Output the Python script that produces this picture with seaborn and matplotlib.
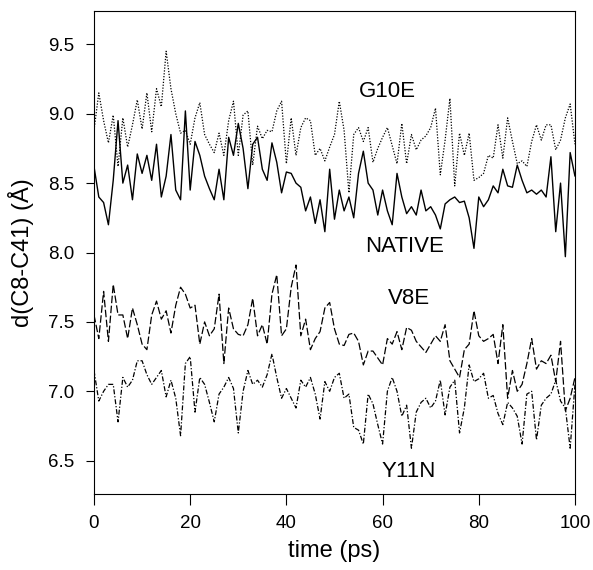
import numpy as np
import pandas as pd
import seaborn as sns
import matplotlib
matplotlib.use('Agg')
import matplotlib.pyplot as plt

# time axis (ps), one point per ps
time_ps = list(range(0, 101))

# d(C8-C41) in Angstrom
native = [8.62, 8.40, 8.36, 8.20, 8.52, 8.95, 8.50, 8.63, 8.38, 8.71,
          8.57, 8.70, 8.52, 8.78, 8.40, 8.55, 8.85, 8.45, 8.38, 9.02,
          8.45, 8.80, 8.70, 8.55, 8.46, 8.38, 8.60, 8.38, 8.83, 8.70,
          8.93, 8.75, 8.46, 8.78, 8.83, 8.60, 8.52, 8.79, 8.65, 8.43,
          8.58, 8.57, 8.50, 8.47, 8.30, 8.40, 8.21, 8.38, 8.15, 8.60,
          8.24, 8.45, 8.30, 8.40, 8.25, 8.57, 8.73, 8.50, 8.45, 8.27,
          8.45, 8.30, 8.20, 8.57, 8.40, 8.28, 8.33, 8.27, 8.45, 8.30,
          8.33, 8.27, 8.17, 8.35, 8.38, 8.40, 8.36, 8.37, 8.25, 8.03,
          8.40, 8.33, 8.38, 8.48, 8.43, 8.60, 8.48, 8.47, 8.63, 8.52,
          8.43, 8.45, 8.42, 8.45, 8.40, 8.69, 8.15, 8.50, 7.97, 8.72,
          8.55]

g10e = [8.88, 9.15, 8.95, 8.79, 8.99, 8.62, 8.97, 8.76, 8.92, 9.10,
        8.89, 9.15, 8.87, 9.18, 9.05, 9.45, 9.18, 9.00, 8.86, 8.88,
        8.78, 8.97, 9.08, 8.85, 8.78, 8.72, 8.86, 8.70, 8.95, 9.09,
        8.70, 8.99, 9.02, 8.63, 8.91, 8.82, 8.88, 8.87, 9.02, 9.09,
        8.64, 8.97, 8.70, 8.90, 8.97, 8.95, 8.70, 8.75, 8.66, 8.76,
        8.85, 9.09, 8.88, 8.43, 8.85, 8.90, 8.80, 8.90, 8.65, 8.75,
        8.83, 8.90, 8.77, 8.64, 8.93, 8.64, 8.85, 8.74, 8.81, 8.84,
        8.90, 9.04, 8.56, 8.81, 9.11, 8.48, 8.86, 8.70, 8.86, 8.52,
        8.54, 8.57, 8.70, 8.68, 8.92, 8.68, 8.97, 8.80, 8.64, 8.66,
        8.62, 8.80, 8.92, 8.81, 8.92, 8.92, 8.74, 8.81, 8.97, 9.07,
        8.78]

v8e = [7.55, 7.38, 7.72, 7.36, 7.77, 7.55, 7.55, 7.38, 7.60, 7.48,
       7.34, 7.30, 7.55, 7.65, 7.52, 7.58, 7.42, 7.62, 7.75, 7.70,
       7.60, 7.62, 7.34, 7.50, 7.40, 7.45, 7.70, 7.20, 7.60, 7.45,
       7.41, 7.40, 7.48, 7.67, 7.40, 7.48, 7.34, 7.70, 7.84, 7.40,
       7.45, 7.75, 7.91, 7.40, 7.52, 7.30, 7.38, 7.43, 7.60, 7.64,
       7.45, 7.34, 7.33, 7.41, 7.42, 7.36, 7.19, 7.29, 7.29, 7.24,
       7.19, 7.38, 7.34, 7.43, 7.30, 7.46, 7.44, 7.36, 7.32, 7.28,
       7.34, 7.40, 7.36, 7.48, 7.22, 7.16, 7.10, 7.30, 7.34, 7.58,
       7.40, 7.36, 7.38, 7.41, 7.20, 7.48, 6.95, 7.15, 7.00, 7.05,
       7.20, 7.38, 7.16, 7.22, 7.20, 7.26, 7.07, 7.36, 6.86, 6.95,
       7.10]

y11n = [7.15, 6.93, 7.00, 7.05, 7.05, 6.78, 7.10, 7.03, 7.08, 7.22,
        7.22, 7.12, 7.05, 7.10, 7.15, 6.96, 7.08, 6.95, 6.68, 7.20,
        7.25, 6.85, 7.10, 7.05, 6.92, 6.78, 6.98, 7.03, 7.10, 7.02,
        6.70, 7.00, 7.15, 7.05, 7.08, 7.03, 7.12, 7.27, 7.10, 6.95,
        7.02, 6.95, 6.88, 7.08, 7.03, 7.10, 6.98, 6.80, 7.07, 7.00,
        7.10, 7.13, 6.95, 6.98, 6.74, 6.72, 6.62, 6.98, 6.91, 6.76,
        6.62, 7.00, 7.10, 7.00, 6.82, 6.90, 6.59, 6.85, 6.92, 6.95,
        6.88, 6.93, 7.08, 6.83, 7.03, 7.08, 6.70, 6.88, 7.19, 7.07,
        7.09, 7.13, 6.95, 6.97, 6.84, 6.76, 6.92, 6.88, 6.82, 6.62,
        6.98, 7.00, 6.65, 6.90, 6.95, 6.98, 7.08, 6.93, 6.88, 6.59,
        7.05]

sns.set_style('ticks')
plt.rcParams['font.family'] = ['Liberation Sans', 'DejaVu Sans']
plt.rcParams['text.color'] = 'black'
plt.rcParams['axes.labelcolor'] = 'black'
plt.rcParams['xtick.color'] = 'black'
plt.rcParams['ytick.color'] = 'black'

fig = plt.figure(figsize=(5.93, 5.70), dpi=100)
ax = fig.add_axes([0.1585, 0.1333, 0.8111, 0.8474])

sns.lineplot(x=time_ps, y=g10e, ax=ax, color='black', lw=0.9, linestyle=(0, (1, 1.3)))
sns.lineplot(x=time_ps, y=native, ax=ax, color='black', lw=1.0, linestyle='-')
sns.lineplot(x=time_ps, y=v8e, ax=ax, color='black', lw=0.9, linestyle=(0, (6, 2)))
sns.lineplot(x=time_ps, y=y11n, ax=ax, color='black', lw=0.9, linestyle=(0, (4, 1.5, 1, 1.5)))

ax.text(61, 9.16, 'G10E', fontsize=16, ha='center', va='center')
ax.text(64.5, 8.04, 'NATIVE', fontsize=16, ha='center', va='center')
ax.text(65.5, 7.67, 'V8E', fontsize=16, ha='center', va='center')
ax.text(65.5, 6.42, 'Y11N', fontsize=16, ha='center', va='center')

ax.set_xlim(0, 100)
ax.set_ylim(6.26, 9.74)
ax.set_xticks([0, 20, 40, 60, 80, 100])
ax.set_yticks([6.5, 7.0, 7.5, 8.0, 8.5, 9.0, 9.5])
ax.set_yticklabels(['6.5', '7.0', '7.5', '8.0', '8.5', '9.0', '9.5'])
ax.tick_params(axis='both', labelsize=13.5, colors='black', width=0.8)
ax.tick_params(axis='x', length=8, pad=7)
ax.tick_params(axis='y', length=6, pad=8)
for s in ax.spines.values():
    s.set_color('black')
    s.set_linewidth(0.8)

ax.set_xlabel('time (ps)', fontsize=17, labelpad=6)
ax.set_ylabel('d(C8-C41) (Å)', fontsize=17, labelpad=10)

fig.savefig('out.png', dpi=100)
